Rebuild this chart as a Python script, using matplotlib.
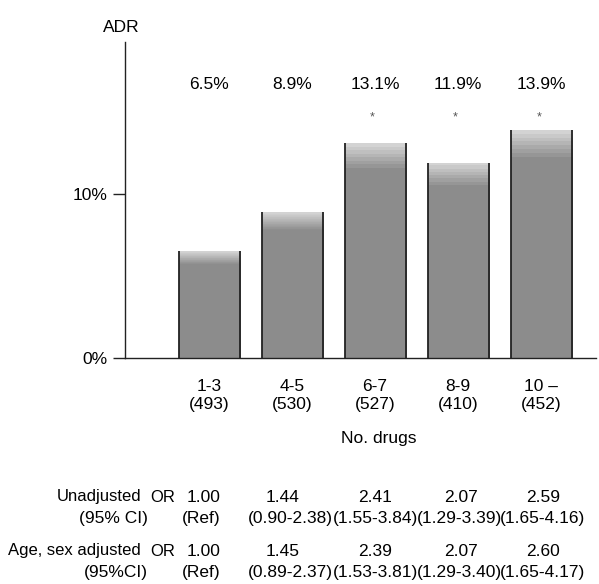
import numpy as np
import matplotlib.pyplot as plt
import matplotlib.transforms as mtransforms

plt.rcParams['font.family'] = ['Liberation Sans', 'DejaVu Sans']

# data
groups = ['1-3', '4-5', '6-7', '8-9', '10 \u2013']
n_patients = [493, 530, 527, 410, 452]
adr_rate = [6.5, 8.9, 13.1, 11.9, 13.9]
significant = [False, False, True, True, True]

or_unadj = ['1.00', '1.44', '2.41', '2.07', '2.59']
ci_unadj = ['(Ref)', '(0.90-2.38)', '(1.55-3.84)', '(1.29-3.39)', '(1.65-4.16)']
or_adj = ['1.00', '1.45', '2.39', '2.07', '2.60']
ci_adj = ['(Ref)', '(0.89-2.37)', '(1.53-3.81)', '(1.29-3.40)', '(1.65-4.17)']

W, H = 599, 584
fig = plt.figure(figsize=(W / 100, H / 100), dpi=100)
ax = fig.add_axes([125 / W, 1 - 358 / H, 471 / W, 316 / H])

x = np.arange(len(groups))
width = 0.735
fs = 12.5

# bars: flat grey body with a lighter top cap, dark side edges
grad = np.ones((60, 1, 3)) * 0.55
top = np.linspace(0.83, 0.55, 8)
grad[:8, 0, :] = top[:, None]
bars = ax.bar(x, adr_rate, width, color='#8c8c8c', edgecolor='none', zorder=1)
for b in bars:
    x0, h = b.get_x(), b.get_height()
    im = ax.imshow(grad, extent=[x0, x0 + width, 0, h], aspect='auto',
                   origin='upper', zorder=2)
    im.set_clip_path(b)
ax.vlines(x - width / 2, 0, adr_rate, color='#222222', lw=1.3, zorder=3)
ax.vlines(x + width / 2, 0, adr_rate, color='#222222', lw=1.3, zorder=3)

ax.set_xlim(-1.012, 4.66)
ax.set_ylim(0, 19.27)

for s in ['top', 'right']:
    ax.spines[s].set_visible(False)
for s in ['left', 'bottom']:
    ax.spines[s].set_linewidth(1.0)
    ax.spines[s].set_color('#222222')

ax.set_yticks([0, 10])
ax.set_yticklabels(['0%', '10%'], fontsize=fs)
ax.tick_params(axis='y', length=9, width=1.0, pad=3.5, color='#222222')
ax.set_xticks(x)
ax.set_xticklabels([f'{g}\n({n})' for g, n in zip(groups, n_patients)],
                   fontsize=fs, linespacing=1.3)
ax.tick_params(axis='x', length=0, pad=15)

# rate labels and significance marks
for xi, r, sg in zip(x, adr_rate, significant):
    ax.text(xi, 0.864, f'{r}%', transform=ax.get_xaxis_transform(),
            ha='center', va='center', fontsize=fs)
    if sg:
        ax.text(xi - 0.03, 0.762, '*', transform=ax.get_xaxis_transform(),
                ha='center', va='center', fontsize=9, color='#555555')

fig.text(121 / W, 1 - 27 / H, 'ADR', ha='center', va='center', fontsize=fs)
fig.text(379 / W, 1 - 439 / H, 'No. drugs', ha='center', va='center', fontsize=fs)

# odds ratio table beneath the axis
tr = mtransforms.blended_transform_factory(ax.transData, fig.transFigure)
or_shift = [-0.07, -0.11, 0, 0.03, 0.02]
ci_shift = [-0.1, -0.02, 0, 0.02, 0.02]
rows = [(or_unadj, ci_unadj, 'Unadjusted', '(95% CI)', 497, 518),
        (or_adj, ci_adj, 'Age, sex adjusted', '(95%CI)', 551, 572)]
for ors, cis, lab1, lab2, y1, y2 in rows:
    fig.text(141 / W, 1 - y1 / H, lab1, ha='right', va='center', fontsize=12)
    fig.text(150 / W, 1 - y1 / H, 'OR', ha='left', va='center', fontsize=12)
    fig.text(148 / W, 1 - y2 / H, lab2, ha='right', va='center', fontsize=fs)
    for xi, o, c, so, sc in zip(x, ors, cis, or_shift, ci_shift):
        ax.text(xi + so, 1 - y1 / H, o, transform=tr, ha='center',
                va='center', fontsize=fs, clip_on=False)
        ax.text(xi + sc, 1 - y2 / H, c, transform=tr, ha='center',
                va='center', fontsize=fs, clip_on=False)

fig.savefig('out.png', dpi=100)
